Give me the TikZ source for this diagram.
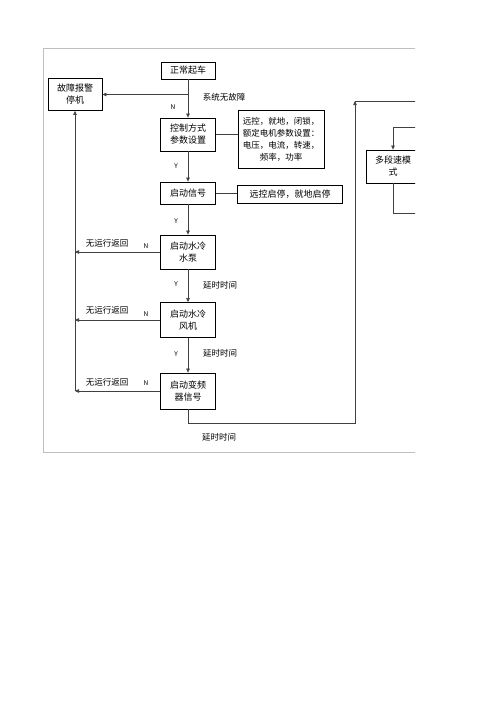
\documentclass[tikz,border=0pt]{standalone}
\usepackage{fontspec}
\setmainfont{Noto Sans CJK SC}
\usetikzlibrary{arrows.meta}
\tikzset{
  box/.style={draw=black, line width=0.8pt, rectangle, inner sep=0pt, align=center, font=\fontsize{9}{12}\selectfont},
  lbl/.style={inner sep=0pt, font=\fontsize{8.5}{10}\selectfont},
  yn/.style={inner sep=0pt, font=\fontsize{6.5}{8}\selectfont},
  con/.style={draw=black!75, line width=0.6pt},
  arr/.style={con, -{Triangle[length=4pt,width=3.5pt]}},
  frame/.style={draw=black!25, line width=1pt}
}
\begin{document}
\begin{tikzpicture}[x=1pt,y=-1pt]
\useasboundingbox[fill=white] (0,0) rectangle (496,702);
\begin{scope}
\clip (0,0) rectangle (415,702);
\draw[frame] (420,48) -- (43,48) -- (43,452) -- (420,452);

\node[box, minimum width=54pt, minimum height=17pt] (start) at (188,70.5) {正常起车};
\node[box, minimum width=54pt, minimum height=32pt] (fault) at (75,94.5) {故障报警\\停机};
\node[box, minimum width=55pt, minimum height=33pt] (ctrl) at (188,134.5) {控制方式\\参数设置};
\node[box, minimum width=86pt, minimum height=58pt, font=\fontsize{8.5}{12}\selectfont] (params) at (281,139) {远控，就地，闭锁，\\额定电机参数设置：\\电压，电流，转速，\\频率，功率};
\node[box, minimum width=55pt, minimum height=22pt] (sig) at (188,193) {启动信号};
\node[box, minimum width=105pt, minimum height=18pt] (remote) at (290,194) {远控启停，就地启停};
\node[box, minimum width=55pt, minimum height=34pt] (pump) at (188,252) {启动水冷\\水泵};
\node[box, minimum width=55pt, minimum height=35pt] (fan) at (188,320) {启动水冷\\风机};
\node[box, minimum width=55pt, minimum height=36pt] (vfd) at (188,391) {启动变频\\器信号};
\node[box, minimum width=54pt, minimum height=33pt] (multi) at (393,166.5) {多段速模\\式};

\coordinate (j1) at (188,94.5);
\coordinate (r1) at (75,252);
\coordinate (r2) at (75,320);
\coordinate (r3) at (75,391);
\coordinate (b1) at (188,423);
\coordinate (b2) at (355,423);
\coordinate (b3) at (355,101);
\coordinate (b4) at (420,101);
\coordinate (m1) at (420,127);
\coordinate (m2) at (393,127);
\coordinate (m3) at (393,213);
\coordinate (m4) at (420,213);

\draw[arr] (start) -- (ctrl);
\draw[arr] (j1) -- (fault.east);
\draw[con] (ctrl.east) -- (ctrl.east -| params.west);
\draw[arr] (ctrl) -- (sig);
\draw[con] (sig.east) -- (sig.east -| remote.west);
\draw[arr] (sig) -- (pump);
\draw[arr] (pump) -- (fan);
\draw[arr] (fan) -- (vfd);
\draw[arr] (pump.west) -- (r1);
\draw[arr] (fan.west) -- (r2);
\draw[arr] (vfd.west) -- (r3);
\draw[arr] (r3) -- (fault.south);
\draw[arr] (vfd.south) -- (b1) -- (b2) -- (b3);
\draw[con] (b3) -- (b4);
\draw[arr] (m1) -- (m2) -- (multi.north);
\draw[con] (multi.south) -- (m3) -- (m4);

\node[yn] (n0) at (173,107) {N};
\node[lbl] (t0) at (224,97) {系统无故障};
\node[yn] (y1) at (176,166) {Y};
\node[yn] (y2) at (176,221) {Y};
\node[yn] (y3) at (176,284) {Y};
\node[yn] (y4) at (176,354) {Y};
\node[lbl] (d1) at (220,285) {延时时间};
\node[lbl] (d2) at (220,353) {延时时间};
\node[lbl] (d3) at (219,437) {延时时间};
\node[lbl] (w1) at (107,243) {无运行返回};
\node[lbl] (w2) at (107,310) {无运行返回};
\node[lbl] (w3) at (107,382) {无运行返回};
\node[yn] (n1) at (146,246) {N};
\node[yn] (n2) at (146,314) {N};
\node[yn] (n3) at (146,383) {N};
\end{scope}
\end{tikzpicture}
\end{document}
